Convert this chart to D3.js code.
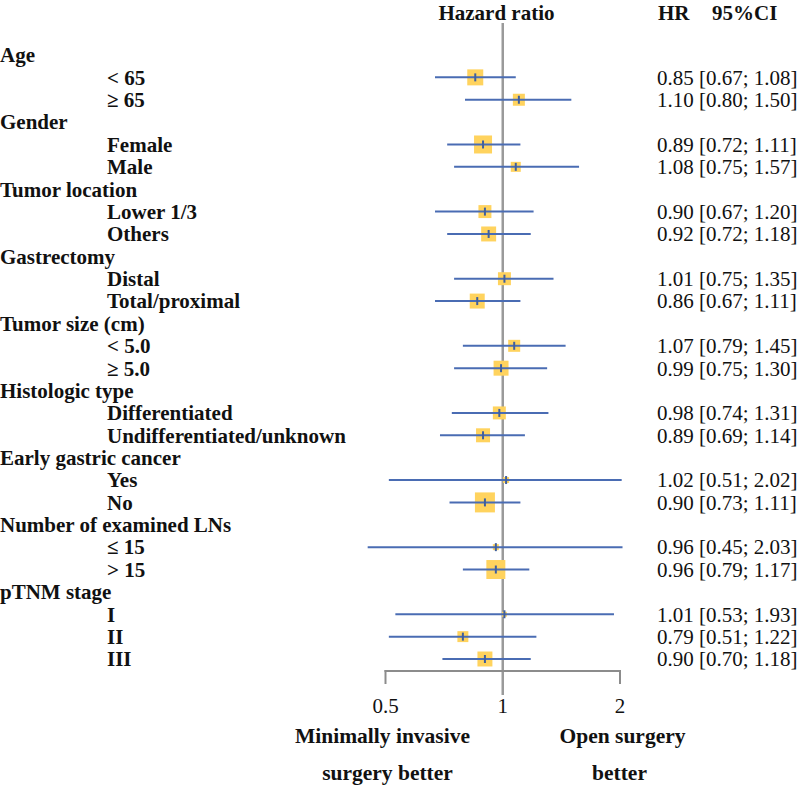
<!DOCTYPE html>
<html>
<head>
<meta charset="utf-8">
<script src="https://cdn.jsdelivr.net/npm/d3@7"></script>
<style>
  html, body { margin: 0; padding: 0; background: #fff; }
  svg { display: block; }
  text { font-family: "Liberation Serif", "Times New Roman", serif; fill: #111; }
</style>
</head>
<body>
<svg id="chart" width="800" height="789"></svg>
<script>
// ---- data ----
const groups = ["Age", "Gender", "Tumor location", "Gastrectomy", "Tumor size (cm)",
  "Histologic type", "Early gastric cancer", "Number of examined LNs", "pTNM stage"];
const subgroups = [
  ["< 65", "\u2265 65"],
  ["Female", "Male"],
  ["Lower 1/3", "Others"],
  ["Distal", "Total/proximal"],
  ["< 5.0", "\u2265 5.0"],
  ["Differentiated", "Undifferentiated/unknown"],
  ["Yes", "No"],
  ["\u2264 15", "> 15"],
  ["I", "II", "III"]
];
const hr    = [[0.85, 1.10], [0.89, 1.08], [0.90, 0.92], [1.01, 0.86], [1.07, 0.99], [0.98, 0.89], [1.02, 0.90], [0.96, 0.96], [1.01, 0.79, 0.90]];
const lower = [[0.67, 0.80], [0.72, 0.75], [0.67, 0.72], [0.75, 0.67], [0.79, 0.75], [0.74, 0.69], [0.51, 0.73], [0.45, 0.79], [0.53, 0.51, 0.70]];
const upper = [[1.08, 1.50], [1.11, 1.57], [1.20, 1.18], [1.35, 1.11], [1.45, 1.30], [1.31, 1.14], [2.02, 1.11], [2.03, 1.17], [1.93, 1.22, 1.18]];
const weights = [[64, 36], [81, 25], [42, 56], [42, 56], [36, 56], [42, 49], [9, 100], [9, 90], [6, 30, 56]];
const tickValues = [0.5, 1, 2];
const tickLabels = ["0.5", "1", "2"];

// ---- build rows ----
const rows = [];
groups.forEach((g, gi) => {
  rows.push({ type: "group", label: g });
  subgroups[gi].forEach((s, si) => {
    rows.push({ type: "sub", label: s, hr: hr[gi][si], lo: lower[gi][si], hi: upper[gi][si], w: weights[gi][si] });
  });
});

const svg = d3.select("#chart");
const fmt = d3.format(".2f");

const x = d3.scaleLog().base(2).domain([0.5, 2]).range([385.5, 620]);
const y = d3.scaleLinear().domain([0, rows.length - 1]).range([55, 659]);
const size = d3.scaleSqrt().domain([0, 100]).range([0, 20]);

const labelSize = 21;

// headers
svg.append("text").attr("x", 496.5).attr("y", 20).attr("text-anchor", "middle")
  .attr("font-weight", "bold").attr("font-size", labelSize).text("Hazard ratio");
svg.append("text").attr("x", 658).attr("y", 20)
  .attr("font-weight", "bold").attr("font-size", labelSize).text("HR");
svg.append("text").attr("x", 712).attr("y", 20)
  .attr("font-weight", "bold").attr("font-size", labelSize).text("95%CI");

// reference line
svg.append("line").attr("x1", x(1)).attr("x2", x(1)).attr("y1", 23).attr("y2", 695)
  .attr("stroke", "#9a9a9a").attr("stroke-width", 2.5);

// axis
const axisY = 671;
const axisG = svg.append("g").attr("transform", `translate(0,${axisY})`);
axisG.append("line").attr("x1", x(0.5) - 1).attr("x2", x(2) + 1).attr("y1", 0).attr("y2", 0)
  .attr("stroke", "#8c8c8c").attr("stroke-width", 2);
axisG.selectAll("line.tick").data([0.5, 2]).join("line").attr("class", "tick")
  .attr("x1", d => x(d)).attr("x2", d => x(d)).attr("y1", -1).attr("y2", 13)
  .attr("stroke", "#8c8c8c").attr("stroke-width", 2);
axisG.selectAll("text.tl").data(tickValues).join("text").attr("class", "tl")
  .attr("x", d => x(d)).attr("y", 42).attr("text-anchor", "middle")
  .attr("font-size", 21).text((d, i) => tickLabels[i]);

// bottom labels
const bl = [
  { t: "Minimally invasive", cx: 382.5, yy: 743 },
  { t: "surgery better", cx: 387.5, yy: 780 },
  { t: "Open surgery", cx: 622.5, yy: 743 },
  { t: "better", cx: 619.5, yy: 780 }
];
svg.selectAll("text.bl").data(bl).join("text").attr("class", "bl")
  .attr("x", d => d.cx).attr("y", d => d.yy).attr("text-anchor", "middle")
  .attr("font-weight", "bold").attr("font-size", 21.5).text(d => d.t);

// row labels
svg.selectAll("text.lab").data(rows).join("text").attr("class", "lab")
  .attr("x", d => d.type === "group" ? 0 : 107)
  .attr("y", (d, i) => y(i)).attr("dy", "0.35em")
  .attr("font-weight", "bold").attr("font-size", labelSize).text(d => d.label);

const subs = rows.map((d, i) => ({ ...d, i })).filter(d => d.type === "sub");

// squares
svg.selectAll("rect.sq").data(subs).join("rect").attr("class", "sq")
  .attr("x", d => x(d.hr) - size(d.w) / 2).attr("y", d => y(d.i) - size(d.w) / 2)
  .attr("width", d => size(d.w)).attr("height", d => size(d.w))
  .attr("fill", "#FFD35E");

// CI lines
svg.selectAll("line.ci").data(subs).join("line").attr("class", "ci")
  .attr("x1", d => x(d.lo)).attr("x2", d => x(d.hi))
  .attr("y1", d => y(d.i)).attr("y2", d => y(d.i))
  .attr("stroke", "#4a6cb3").attr("stroke-width", 2);

// point marks
svg.selectAll("line.pt").data(subs).join("line").attr("class", "pt")
  .attr("x1", d => x(d.hr)).attr("x2", d => x(d.hr))
  .attr("y1", d => y(d.i) - 4).attr("y2", d => y(d.i) + 4)
  .attr("stroke", "#3f5f9e").attr("stroke-width", 2);

// values text
svg.selectAll("text.val").data(subs).join("text").attr("class", "val")
  .attr("x", 657).attr("y", d => y(d.i)).attr("dy", "0.35em")
  .attr("font-size", 21)
  .text(d => `${fmt(d.hr)} [${fmt(d.lo)}; ${fmt(d.hi)}]`);
</script>
</body>
</html>
